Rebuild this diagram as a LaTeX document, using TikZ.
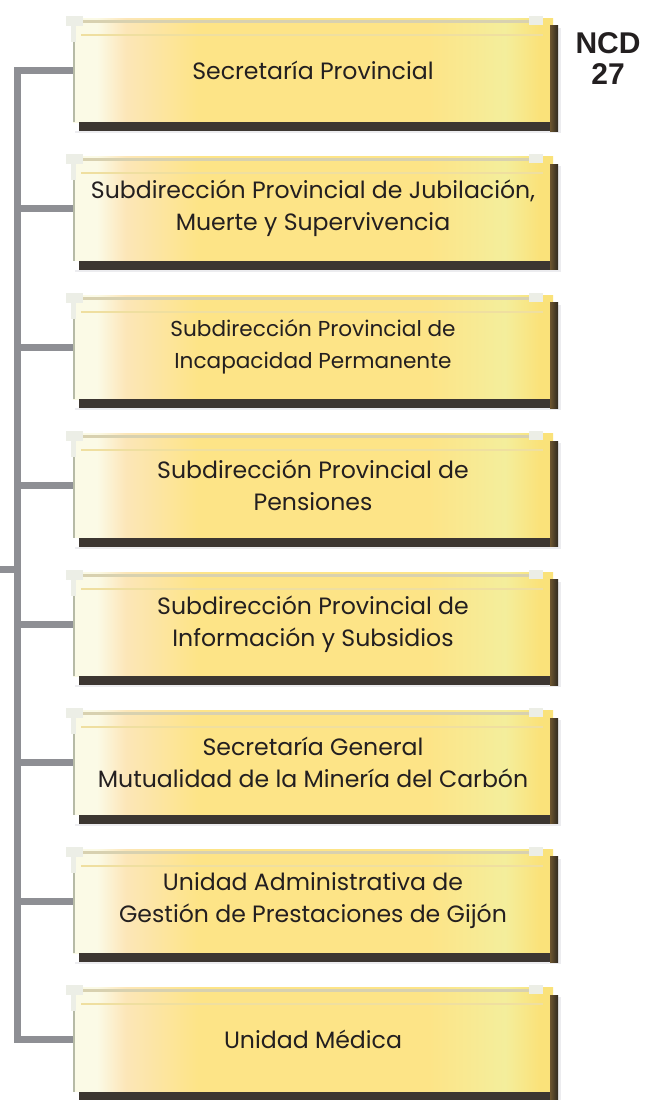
\documentclass[tikz,border=0pt]{standalone}
\usepackage{fontspec}
\setmainfont{Poppins}
\newfontfamily\ncdfont{Liberation Sans}
\usetikzlibrary{calc}
\definecolor{conncol}{HTML}{8E8F94}
\definecolor{txtcol}{HTML}{231F20}
\definecolor{cA}{HTML}{FBFAE6}
\definecolor{cB}{HTML}{FCE6B8}
\definecolor{cC}{HTML}{FDE487}
\definecolor{cD}{HTML}{F4EE9C}
\definecolor{cE}{HTML}{FAE27A}
\definecolor{topcol}{HTML}{D8D1B0}
\definecolor{top2col}{HTML}{EFDFA0}
\definecolor{edgecol}{HTML}{B6BAA6}
\definecolor{shadcol}{HTML}{3C3631}
\definecolor{rshadA}{HTML}{6B5430}
\definecolor{rshadB}{HTML}{2E2820}
\definecolor{pincol}{HTML}{ECEEE6}
\definecolor{glowcol}{HTML}{ECECEF}
\pgfdeclarehorizontalshading{boxshade}{100bp}{color(0bp)=(cA); color(25bp)=(cA); color(27.5bp)=(cA); color(30.5bp)=(cB); color(38bp)=(cC); color(62bp)=(cC); color(70bp)=(cD); color(73.5bp)=(cE); color(75bp)=(cE); color(100bp)=(cE)}
\tikzset{
  boxnode/.style={shading=boxshade, minimum width=480pt, minimum height=104pt,
    inner sep=0pt, align=center, text=txtcol},
  boxfont/.style={font=\fontsize{23.6}{32}\selectfont},
  smallfont/.style={font=\fontsize{21.6}{32}\selectfont},
  conn/.style={draw=conncol, line width=7pt, line join=miter},
  topline/.style={fill=topcol},
  topline2/.style={fill=top2col},
  leftedge/.style={draw=edgecol, line width=2pt},
  bshadow/.style={fill=shadcol},
  rshadow/.style={left color=rshadA, right color=rshadB},
  pin/.style={fill=pincol},
  glow/.style={fill=glowcol}
}
\newcommand{\ibox}[4]{%
  \node[boxnode,#3] (#1) at (313,#2) {#4};
  \fill[topline] ($(#1.north west)+(4,2)$) rectangle ($(#1.north east)+(-10,5)$);
  \fill[topline2] ($(#1.north west)+(8,16)$) rectangle ($(#1.north east)+(-10,18)$);
  \fill[pin] ($(#1.north west)+(-7,-2)$) rectangle ($(#1.north west)+(10,8)$);
  \fill[pin] ($(#1.north west)+(-2,8)$) rectangle ($(#1.north west)+(3,24)$);
  \fill[pin] ($(#1.north east)+(-24,-2)$) rectangle ($(#1.north east)+(-10,7)$);
  \draw[leftedge] ($(#1.north west)+(1,24)$) -- ($(#1.south west)+(1,0)$);
  \fill[glow] ($(#1.north east)+(5,10)$) rectangle ($(#1.south east)+(8,10)$);
  \fill[glow] ($(#1.south west)+(2,9)$) rectangle ($(#1.south east)+(8,11)$);
  \fill[bshadow] ($(#1.south west)+(6,0)$) rectangle ($(#1.south east)+(5,9)$);
  \fill[rshadow] ($(#1.north east)+(-3,8)$) rectangle ($(#1.south east)+(5,9)$);
}
\begin{document}
\begin{tikzpicture}[x=1pt,y=-1pt]
\useasboundingbox (0,0) rectangle (657,1100);
\ibox{b1}{70}{boxfont}{Secretaría Provincial}
\ibox{b2}{208.5}{boxfont}{Subdirección Provincial de Jubilación,\\Muerte y Supervivencia}
\ibox{b3}{347}{smallfont}{Subdirección Provincial de\\Incapacidad Permanente}
\ibox{b4}{485.5}{boxfont}{Subdirección Provincial de\\Pensiones}
\ibox{b5}{624}{boxfont}{Subdirección Provincial de\\Información y Subsidios}
\ibox{b6}{762.5}{boxfont}{Secretaría General\\Mutualidad de la Minería del Carbón}
\ibox{b7}{901}{boxfont}{Unidad Administrativa de\\Gestión de Prestaciones de Gijón}
\ibox{b8}{1039.5}{boxfont}{Unidad Médica}
\node[font=\ncdfont\bfseries\fontsize{30}{31}\selectfont, align=center, text=txtcol, inner sep=0pt] (ncd) at (608,59) {NCD\\27};
\coordinate (s1) at (17,70);
\coordinate (s8) at (17,1039.5);
\coordinate (stub) at (0,569);
\draw[conn] (b1.west) -- (s1) -- (s8) -- (b8.west);
\foreach \i in {2,...,7} {\draw[conn] (b\i.west) -- (b\i.west -| s1);}
\draw[conn] (stub) -- (stub -| s1);
\end{tikzpicture}
\end{document}
